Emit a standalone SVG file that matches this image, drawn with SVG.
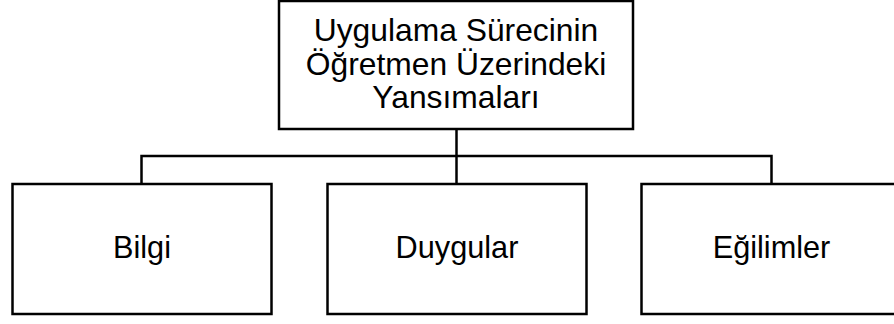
<svg xmlns="http://www.w3.org/2000/svg" width="894" height="324" viewBox="0 0 894 324">
  <style>
    .box { fill: #ffffff; stroke: #000000; stroke-width: 2.5; }
    .conn { fill: none; stroke: #000000; stroke-width: 2.5; }
    .label { font-family: "Liberation Sans", Arial, sans-serif; font-size: 30.7px; fill: #000000; text-anchor: middle; }
    .title { font-size: 31.8px; }
  </style>
  <rect width="894" height="324" fill="#ffffff"/>

  <g id="connectors">
    <path class="conn" d="M456.5 129 V156"/>
    <path class="conn" d="M141.5 184 V156 H771.5 V184"/>
    <path class="conn" d="M456.5 156 V184"/>
  </g>

  <g id="root">
    <rect class="box" x="279" y="1" width="354" height="128"/>
    <text class="label title" x="456" y="41">Uygulama Sürecinin</text>
    <text class="label title" x="456" y="74.5">Öğretmen Üzerindeki</text>
    <text class="label title" x="456" y="108">Yansımaları</text>
  </g>

  <g id="bilgi">
    <rect class="box" x="12.5" y="184" width="259" height="130"/>
    <text class="label" x="142" y="258">Bilgi</text>
  </g>

  <g id="duygular">
    <rect class="box" x="327.5" y="184" width="259" height="130"/>
    <text class="label" x="457" y="258">Duygular</text>
  </g>

  <g id="egilimler">
    <rect class="box" x="641.5" y="184" width="260" height="130"/>
    <text class="label" x="771.5" y="258">Eğilimler</text>
  </g>
</svg>
